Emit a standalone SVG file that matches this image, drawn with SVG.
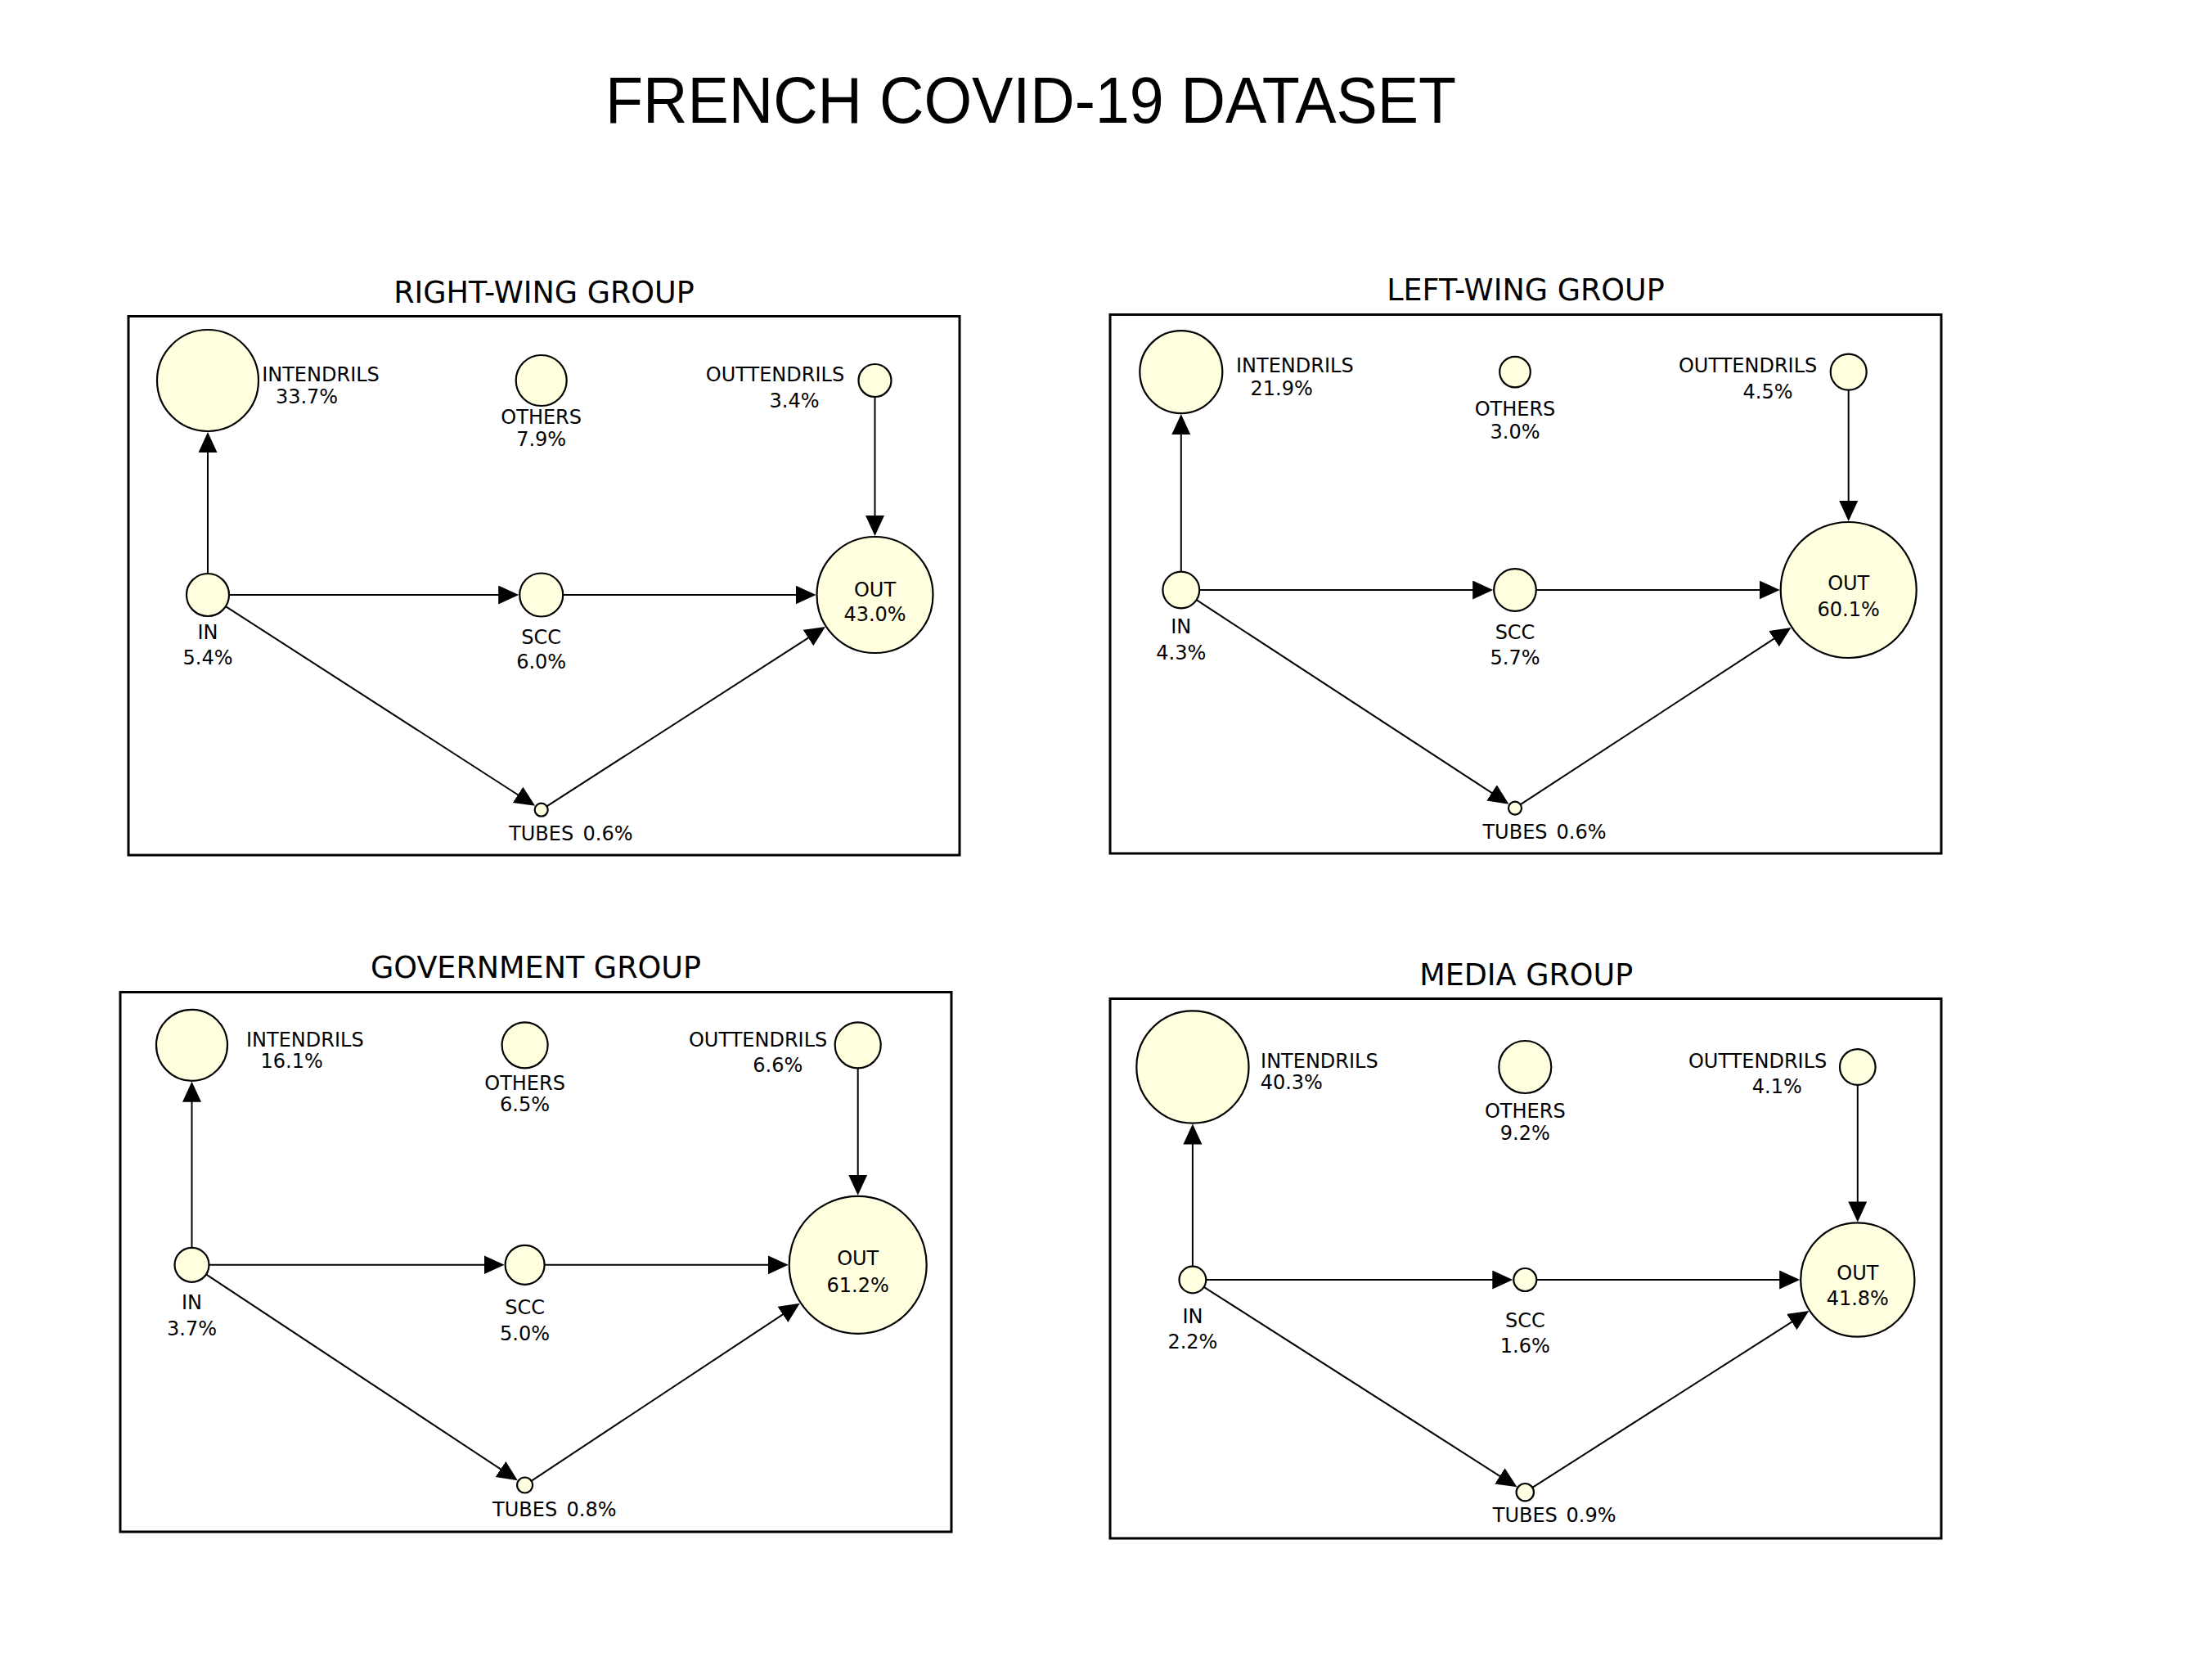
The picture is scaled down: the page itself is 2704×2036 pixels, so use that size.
<svg xmlns="http://www.w3.org/2000/svg" width="2704" height="2036" viewBox="0 0 2704 2036">
<defs>
<style>
.bg{fill:#ffffff}
.title{font-family:"Liberation Sans",Arial,sans-serif;font-size:80px;fill:#000}
.ptitle{font-family:"DejaVu Sans",sans-serif;font-size:36.5px;fill:#000;text-anchor:middle}
.lbl{font-family:"DejaVu Sans",sans-serif;font-size:24px;fill:#000;text-anchor:middle}
.lbs{font-family:"DejaVu Sans",sans-serif;font-size:24px;fill:#000;text-anchor:start}
.box{fill:none;stroke:#000;stroke-width:3}
.node{fill:#FFFFE0;stroke:#000;stroke-width:2.2}
.edge{stroke:#000;stroke-width:2;fill:none;marker-end:url(#ah)}
</style>
<marker id="ah" markerUnits="userSpaceOnUse" markerWidth="26" markerHeight="24" viewBox="0 0 26 24" refX="5" refY="11.5" orient="auto">
<path d="M0,0 L25,11.5 L0,23 z" fill="#000"/>
</marker>
</defs>
<rect class="bg" x="0" y="0" width="2704" height="2036"/>
<text class="title" x="1260" y="150" text-anchor="middle" textLength="1040" lengthAdjust="spacingAndGlyphs">FRENCH COVID-19 DATASET</text>

<!-- RIGHT-WING -->
<g id="panel-right-wing">
<text class="ptitle" x="665" y="370">RIGHT-WING GROUP</text>
<rect class="box" x="157" y="386.5" width="1016" height="658.5"/>
<g id="rw-connectors">
<line class="edge" x1="254" y1="701" x2="254" y2="548"/>
<line class="edge" x1="280" y1="727" x2="614.2" y2="727"/>
<line class="edge" x1="688.2" y1="727" x2="977.5" y2="727"/>
<line class="edge" x1="1069.5" y1="485" x2="1069.5" y2="635"/>
<line class="edge" x1="275.9" y1="741.1" x2="637.3" y2="974"/>
<line class="edge" x1="668.4" y1="985.4" x2="992.2" y2="776.8"/>
</g>
<g id="rw-intendrils"><circle class="node" cx="254" cy="465" r="62"/><text class="lbl" x="392" y="466">INTENDRILS</text><text class="lbl" x="375" y="493">33.7%</text></g>
<g id="rw-others"><circle class="node" cx="661.7" cy="465" r="31"/><text class="lbl" x="661.7" y="518">OTHERS</text><text class="lbl" x="661.7" y="545">7.9%</text></g>
<g id="rw-outtendrils"><circle class="node" cx="1069.5" cy="465" r="20"/><text class="lbl" x="947.5" y="466">OUTTENDRILS</text><text class="lbl" x="971" y="498">3.4%</text></g>
<g id="rw-in"><circle class="node" cx="254" cy="727" r="26"/><text class="lbl" x="254" y="781">IN</text><text class="lbl" x="254" y="812">5.4%</text></g>
<g id="rw-scc"><circle class="node" cx="661.7" cy="727" r="26.5"/><text class="lbl" x="661.7" y="786.7">SCC</text><text class="lbl" x="661.7" y="817">6.0%</text></g>
<g id="rw-out"><circle class="node" cx="1069.5" cy="727" r="71"/><text class="lbl" x="1069.5" y="728.5">OUT</text><text class="lbl" x="1069.5" y="759.3">43.0%</text></g>
<g id="rw-tubes"><circle class="node" cx="661.7" cy="989.7" r="8"/><text class="lbl" x="661.7" y="1026.5">TUBES</text><text class="lbs" x="712.6" y="1026.5">0.6%</text></g>
</g>

<!-- LEFT-WING -->
<g id="panel-left-wing">
<text class="ptitle" x="1865" y="367">LEFT-WING GROUP</text>
<rect class="box" x="1357" y="384.5" width="1016" height="658.5"/>
<g id="lw-connectors">
<line class="edge" x1="1443.8" y1="698.6" x2="1443.8" y2="526.1"/>
<line class="edge" x1="1466.2" y1="721" x2="1805.2" y2="721"/>
<line class="edge" x1="1877.8" y1="721" x2="2155.7" y2="721"/>
<line class="edge" x1="2259.7" y1="476.6" x2="2259.7" y2="617"/>
<line class="edge" x1="1462.6" y1="733.2" x2="1827.7" y2="971.7"/>
<line class="edge" x1="1858.7" y1="983.2" x2="2172.7" y2="777.9"/>
</g>
<g id="lw-intendrils"><circle class="node" cx="1443.8" cy="454.6" r="50.5"/><text class="lbl" x="1582.8" y="455.3">INTENDRILS</text><text class="lbl" x="1566.7" y="482.7">21.9%</text></g>
<g id="lw-others"><circle class="node" cx="1852" cy="454.6" r="18.8"/><text class="lbl" x="1852" y="508">OTHERS</text><text class="lbl" x="1852" y="535.6">3.0%</text></g>
<g id="lw-outtendrils"><circle class="node" cx="2259.7" cy="454.6" r="22"/><text class="lbl" x="2136.6" y="455">OUTTENDRILS</text><text class="lbl" x="2161" y="486.7">4.5%</text></g>
<g id="lw-in"><circle class="node" cx="1443.8" cy="721" r="22.4"/><text class="lbl" x="1443.8" y="774">IN</text><text class="lbl" x="1443.8" y="806">4.3%</text></g>
<g id="lw-scc"><circle class="node" cx="1852" cy="721" r="25.8"/><text class="lbl" x="1852" y="780.7">SCC</text><text class="lbl" x="1852" y="812">5.7%</text></g>
<g id="lw-out"><circle class="node" cx="2259.7" cy="721" r="83"/><text class="lbl" x="2259.7" y="721">OUT</text><text class="lbl" x="2259.7" y="753">60.1%</text></g>
<g id="lw-tubes"><circle class="node" cx="1852" cy="987.6" r="8"/><text class="lbl" x="1852" y="1025">TUBES</text><text class="lbs" x="1902.5" y="1025">0.6%</text></g>
</g>

<!-- GOVERNMENT -->
<g id="panel-government">
<text class="ptitle" x="655" y="1195">GOVERNMENT GROUP</text>
<rect class="box" x="147" y="1212.5" width="1016" height="659.5"/>
<g id="gov-connectors">
<line class="edge" x1="234.5" y1="1524.8" x2="234.5" y2="1341.8"/>
<line class="edge" x1="255.5" y1="1545.8" x2="596.6" y2="1545.8"/>
<line class="edge" x1="665.6" y1="1545.8" x2="943.7" y2="1545.8"/>
<line class="edge" x1="1048.7" y1="1305.3" x2="1048.7" y2="1440.8"/>
<line class="edge" x1="252" y1="1557.4" x2="616.1" y2="1798.2"/>
<line class="edge" x1="649.5" y1="1809.8" x2="961.1" y2="1603.7"/>
</g>
<g id="gov-intendrils"><circle class="node" cx="234.5" cy="1277.3" r="43.5"/><text class="lbl" x="372.8" y="1278.6">INTENDRILS</text><text class="lbl" x="356.6" y="1305.4">16.1%</text></g>
<g id="gov-others"><circle class="node" cx="641.6" cy="1277.3" r="28"/><text class="lbl" x="641.6" y="1331.5">OTHERS</text><text class="lbl" x="641.6" y="1358.3">6.5%</text></g>
<g id="gov-outtendrils"><circle class="node" cx="1048.7" cy="1277.3" r="28"/><text class="lbl" x="926.6" y="1278.6">OUTTENDRILS</text><text class="lbl" x="950.8" y="1310">6.6%</text></g>
<g id="gov-in"><circle class="node" cx="234.5" cy="1545.8" r="21"/><text class="lbl" x="234.5" y="1600">IN</text><text class="lbl" x="234.5" y="1632">3.7%</text></g>
<g id="gov-scc"><circle class="node" cx="641.6" cy="1545.8" r="24"/><text class="lbl" x="641.6" y="1606">SCC</text><text class="lbl" x="641.6" y="1638">5.0%</text></g>
<g id="gov-out"><circle class="node" cx="1048.7" cy="1545.8" r="84"/><text class="lbl" x="1048.7" y="1545.8">OUT</text><text class="lbl" x="1048.7" y="1579">61.2%</text></g>
<g id="gov-tubes"><circle class="node" cx="641.6" cy="1815" r="9.5"/><text class="lbl" x="641.6" y="1852.5">TUBES</text><text class="lbs" x="692.5" y="1852.5">0.8%</text></g>
</g>

<!-- MEDIA -->
<g id="panel-media">
<text class="ptitle" x="1865.7" y="1203.6">MEDIA GROUP</text>
<rect class="box" x="1357" y="1220.5" width="1016" height="659.5"/>
<g id="media-connectors">
<line class="edge" x1="1457.9" y1="1547.6" x2="1457.9" y2="1393.6"/>
<line class="edge" x1="1474.3" y1="1564" x2="1829.3" y2="1564"/>
<line class="edge" x1="1878.3" y1="1564" x2="2180.2" y2="1564"/>
<line class="edge" x1="2270.8" y1="1325.8" x2="2270.8" y2="1473.4"/>
<line class="edge" x1="1471.7" y1="1572.8" x2="1837.6" y2="1806.6"/>
<line class="edge" x1="1873.3" y1="1817.9" x2="2194.5" y2="1612.8"/>
</g>
<g id="media-intendrils"><circle class="node" cx="1457.9" cy="1304" r="68.6"/><text class="lbl" x="1612.9" y="1304.8">INTENDRILS</text><text class="lbl" x="1578.8" y="1331">40.3%</text></g>
<g id="media-others"><circle class="node" cx="1864.3" cy="1304" r="32"/><text class="lbl" x="1864.3" y="1366.4">OTHERS</text><text class="lbl" x="1864.3" y="1393">9.2%</text></g>
<g id="media-outtendrils"><circle class="node" cx="2270.8" cy="1304" r="21.8"/><text class="lbl" x="2148.6" y="1304.8">OUTTENDRILS</text><text class="lbl" x="2172.3" y="1336">4.1%</text></g>
<g id="media-in"><circle class="node" cx="1457.9" cy="1564" r="16.4"/><text class="lbl" x="1457.9" y="1616.8">IN</text><text class="lbl" x="1457.9" y="1647.6">2.2%</text></g>
<g id="media-scc"><circle class="node" cx="1864.3" cy="1564" r="14"/><text class="lbl" x="1864.3" y="1621.5">SCC</text><text class="lbl" x="1864.3" y="1653">1.6%</text></g>
<g id="media-out"><circle class="node" cx="2270.8" cy="1564" r="69.6"/><text class="lbl" x="2270.8" y="1564">OUT</text><text class="lbl" x="2270.8" y="1594.7">41.8%</text></g>
<g id="media-tubes"><circle class="node" cx="1864.3" cy="1823.7" r="10.7"/><text class="lbl" x="1864.3" y="1860">TUBES</text><text class="lbs" x="1914.6" y="1860">0.9%</text></g>
</g>
</svg>
